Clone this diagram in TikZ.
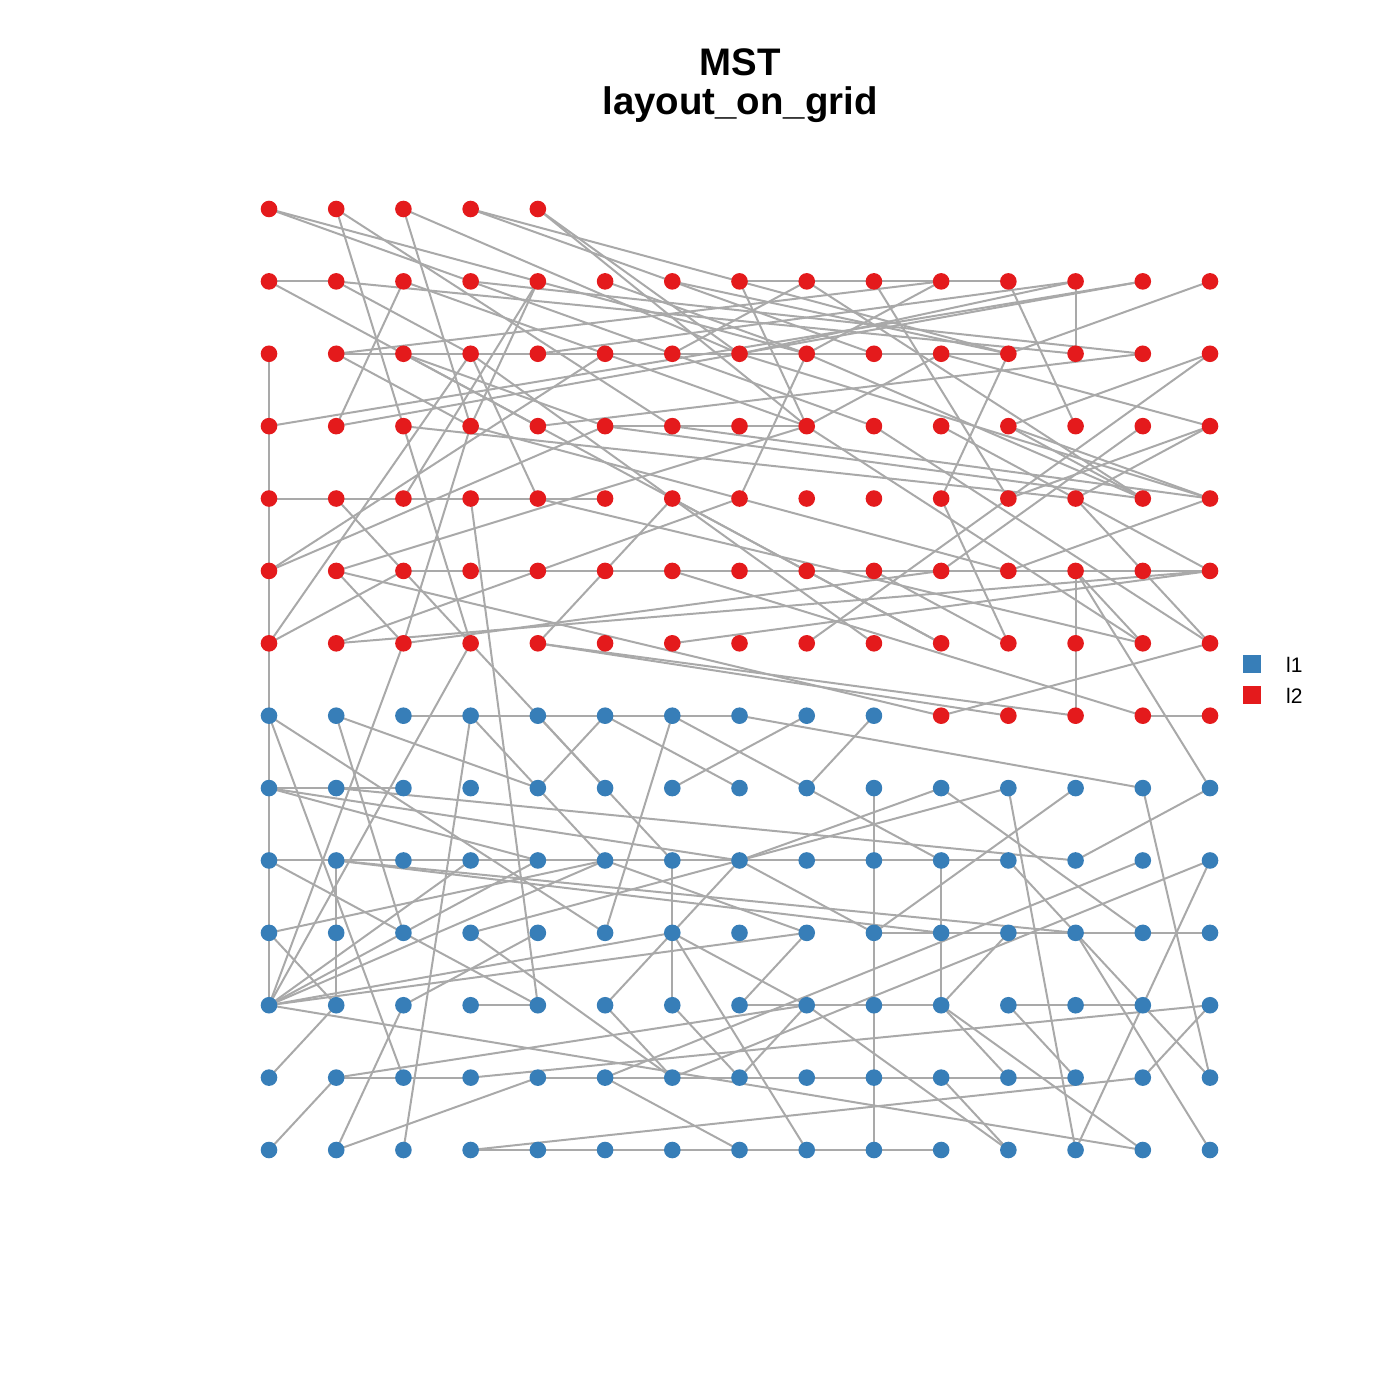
\documentclass[tikz,border=0pt]{standalone}
\usepackage{fontspec}
\setmainfont{Liberation Sans}
\definecolor{nred}{HTML}{E41A1C}
\definecolor{nblue}{HTML}{377EB8}
\definecolor{egray}{HTML}{A9A9A9}
\pgfdeclarelayer{bg}
\pgfsetlayers{bg,main}
\begin{document}
\begin{tikzpicture}[x=0.5pt,y=-0.5pt,
  vtx/.style={circle,inner sep=0pt,minimum size=8.3pt,draw=none},
  rv/.style={vtx,fill=nred},
  bv/.style={vtx,fill=nblue},
  edge/.style={draw=egray,line width=1pt},
  ttl/.style={font=\bfseries\fontsize{19.2}{23}\selectfont,anchor=base},
  leg/.style={font=\fontsize{10.5}{12}\selectfont,anchor=west}]
\useasboundingbox (0,0) rectangle (1400,1400);
\foreach \r in {0,...,13}{
  \foreach \c in {0,...,14}{
    \pgfmathsetmacro\px{269+67.2143*\c}
    \pgfmathsetmacro\py{209+72.385*\r}
    \ifnum\r=0
      \ifnum\c<5 \node[rv] (n-\c-\r) at (\px,\py) {}; \fi
    \else
      \ifnum\r<7
        \node[rv] (n-\c-\r) at (\px,\py) {};
      \else
        \ifnum\r=7
          \ifnum\c>9 \node[rv] (n-\c-\r) at (\px,\py) {};
          \else \node[bv] (n-\c-\r) at (\px,\py) {}; \fi
        \else
          \node[bv] (n-\c-\r) at (\px,\py) {};
        \fi
      \fi
    \fi
  }
}
\begin{pgfonlayer}{bg}
\foreach \a/\b/\p/\q in {
0/0/8/2,0/0/9/3,1/0/2/3,1/0/6/3,2/0/3/3,2/0/7/2,3/0/9/2,3/0/11/2,4/0/8/3,4/0/7/2,
0/1/2/2,1/1/12/2,0/1/1/1,1/1/3/2,2/1/1/3,2/1/8/3,3/1/13/2,4/1/2/4,4/1/3/3,5/1/8/2,6/1/11/2,8/1/6/2,7/1/8/1,8/1/9/1,7/1/8/3,9/1/10/1,10/1/11/1,11/1/12/3,12/1/12/2,7/2/12/1,4/2/12/1,0/3/13/1,1/3/13/1,11/2/14/1,8/1/13/4,9/1/11/4,
1/2/2/2,2/2/3/2,3/2/4/2,4/2/5/2,5/2/6/2,6/2/7/2,7/2/8/2,8/2/9/2,9/2/10/2,10/2/11/2,1/2/10/1,8/2/10/1,8/2/7/4,10/2/8/3,
0/2/0/3,0/3/0/4,0/4/0/5,0/5/0/6,0/6/0/7,0/7/0/8,0/8/0/9,0/9/0/10,0/10/0/11,
1/2/3/3,2/2/5/3,2/2/4/3,3/2/4/4,11/2/10/4,13/2/4/3,14/2/11/3,14/2/8/6,5/3/6/3,6/3/7/3,7/3/8/3,2/3/12/4,3/3/2/6,
8/2/13/4,7/2/14/4,8/3/13/6,9/3/14/6,10/3/14/5,8/5/10/6,9/5/11/6,12/5/13/6,1/6/14/5,1/5/10/7,
5/3/13/4,6/3/14/4,3/3/11/5,4/4/13/6,2/2/8/5,3/2/9/6,6/4/10/6,
0/4/1/4,1/4/2/4,2/4/3/4,3/4/4/4,4/4/5/4,
0/5/5/2,0/5/5/3,0/6/2/5,0/6/3/2,1/5/8/3,1/5/2/6,1/4/2/5,2/5/3/6,2/3/3/6,
2/5/3/5,3/5/4/5,4/5/5/5,5/5/6/5,6/5/7/5,7/5/8/5,8/5/9/5,9/5/10/5,10/5/11/5,11/5/12/5,12/5/13/5,13/5/14/5,
3/6/4/7,2/6/10/5,1/6/7/4,4/6/6/4,6/6/14/5,10/7/14/6,10/4/11/6,4/6/11/7,4/6/12/7,12/5/12/6,12/6/12/7,7/7/13/8,6/5/13/7,13/7/14/7,12/5/14/8,13/5/14/6,
2/7/3/7,3/7/4/7,4/7/5/7,5/7/6/7,6/7/7/7,0/8/1/8,1/8/2/8,3/4/4/11,0/11/2/6,0/11/3/6,
0/9/1/9,1/9/2/9,2/9/3/9,3/9/4/9,4/9/5/9,5/9/6/9,6/9/7/9,7/9/8/9,8/9/9/9,9/9/10/9,10/9/11/9,
1/9/1/10,1/10/1/11,0/9/4/11,1/9/10/10,1/9/12/10,0/10/5/9,0/10/1/11,
9/8/9/9,9/9/9/10,9/10/9/11,9/11/9/12,9/12/9/13,6/9/6/10,6/10/6/11,10/9/10/10,10/10/10/11,
9/10/10/10,10/10/11/10,11/10/12/10,12/10/13/10,13/10/14/10,
3/11/4/11,7/11/8/11,8/11/9/11,9/11/10/11,11/11/12/11,12/11/13/11,
1/12/2/12,2/12/3/12,4/12/5/12,5/12/6/12,6/12/7/12,7/12/8/12,8/12/9/12,9/12/10/12,10/12/11/12,11/12/12/12,
3/13/4/13,4/13/5/13,5/13/6/13,6/13/7/13,7/13/8/13,8/13/9/13,9/13/10/13,
13/9/5/12,14/9/6/12,14/9/13/11,12/10/14/13,13/8/14/12,13/11/12/13,13/11/14/12,3/12/14/11,14/11/13/12,3/13/13/12,11/8/12/13,10/11/13/13,0/11/13/13,10/12/11/13,8/11/11/13,10/11/11/12,10/11/11/10,5/11/6/10,6/10/7/9,
0/12/1/11,0/13/1/12,1/13/2/11,1/13/4/12,2/13/3/7,1/12/8/11,2/11/4/10,3/10/6/12,2/10/4/9,0/7/5/10,0/7/2/12,1/7/2/10,1/7/4/8,3/7/5/9,4/7/6/9,0/8/4/9,0/8/7/9,1/8/12/9,
0/11/3/9,0/11/2/10,0/11/6/10,0/11/8/10,0/11/5/9,10/8/13/10,10/8/7/9,11/8/3/10,12/8/9/10,14/8/12/9,9/7/8/8,8/7/6/8,6/7/5/10,6/7/10/9,4/8/5/7,5/7/7/8,4/7/5/8,
5/9/8/10,7/9/9/10,6/10/8/11,6/10/8/13,8/10/7/11,5/12/7/13,6/11/7/12,7/12/8/11,5/11/6/12,11/9/12/10,12/10/13/11,11/11/12/12,
12/4/13/5,10/5/13/3,14/3/12/4,10/2/14/3,11/4/14/3,11/3/13/4,11/5/14/4,11/3/14/4}
  \draw[edge] (n-\a-\b.center) -- (n-\p-\q.center);
\end{pgfonlayer}
\node[ttl] (t1) at (740,76) {MST};
\node[ttl] (t2) at (740,115) {layout\_on\_grid};
\node[fill=nblue,minimum size=8.8pt,inner sep=0pt] (k1) at (1252,664) {};
\node[fill=nred,minimum size=8.8pt,inner sep=0pt] (k2) at (1252,695) {};
\node[leg] (l1) at (1279,665) {l1};
\node[leg] (l2) at (1279,696) {l2};
\end{tikzpicture}
\end{document}
